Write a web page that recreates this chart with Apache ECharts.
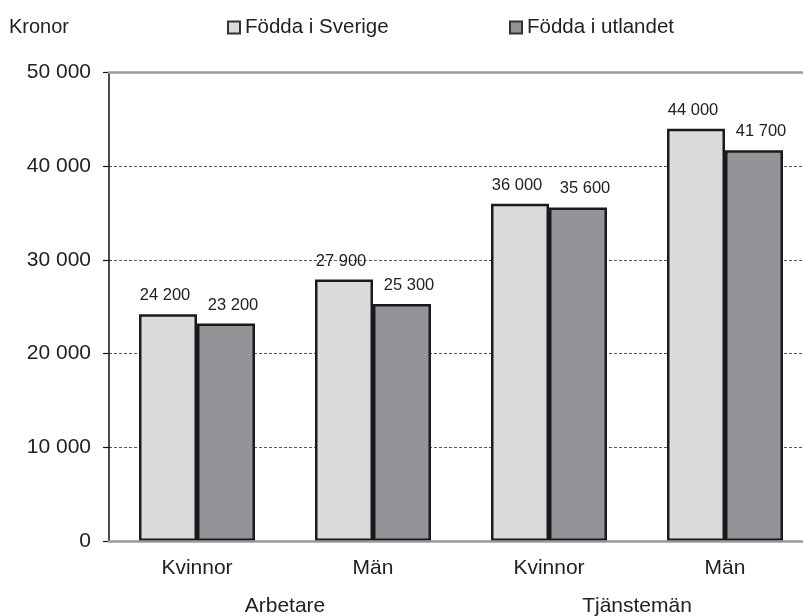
<!DOCTYPE html>
<html>
<head>
<meta charset="utf-8">
<script src="https://cdn.jsdelivr.net/npm/echarts@6/dist/echarts.min.js"></script>
<style>
  html, body { margin: 0; padding: 0; background: #fff; }
  #chart { width: 803px; height: 616px; }
</style>
</head>
<body>
<div id="chart"></div>
<script>
// Månadslön efter yrkesgrupp, kön och födelseland
const categories = ['Kvinnor', 'Män', 'Kvinnor', 'Män'];
const groups = ['Arbetare', 'Tjänstemän'];
const seriesNames = ['Födda i Sverige', 'Födda i utlandet'];
const foddaSverige = [24200, 27900, 36000, 44000];
const foddaUtlandet = [23200, 25300, 35600, 41700];
const yTicks = [0, 10000, 20000, 30000, 40000, 50000];

const FONT = "'Liberation Sans', Arial, sans-serif";
const TEXT = '#222';

// 24200 -> "24 200"
function spaced(v) {
  return String(v).replace(/\B(?=(\d{3})+(?!\d))/g, ' ');
}

const chart = echarts.init(document.getElementById('chart'), null, { renderer: 'canvas' });

const barLabel = (dx) => ({
  show: true,
  position: 'top',
  distance: 10,
  offset: [dx, 0],
  fontFamily: FONT,
  fontSize: 16.5,
  color: TEXT,
  formatter: (p) => spaced(p.value)
});

const legendBase = {
  top: 17,
  itemWidth: 12,
  itemHeight: 12,
  itemGap: 5,
  icon: 'rect',
  textStyle: { fontFamily: FONT, fontSize: 20.5, color: TEXT },
  itemStyle: { borderColor: '#333', borderWidth: 2 }
};

chart.setOption({
  animation: false,
  backgroundColor: '#fff',
  title: {
    text: 'Kronor',
    left: 9,
    top: 17,
    padding: 0,
    textStyle: { fontFamily: FONT, fontSize: 20, fontWeight: 'normal', color: TEXT }
  },
  legend: [
    Object.assign({}, legendBase, { left: 227, data: [seriesNames[0]], padding: 0 }),
    Object.assign({}, legendBase, { left: 509, data: [seriesNames[1]], padding: 0 })
  ],
  grid: {
    left: 109,
    right: -10,
    top: 72.5,
    bottom: 75,
    containLabel: false,
    outerBoundsMode: 'none'
  },
  xAxis: [
    {
      type: 'category',
      data: categories,
      position: 'bottom',
      axisLine: { show: true, lineStyle: { color: '#9a9a9a', width: 2.5 } },
      axisTick: { show: false },
      axisLabel: { margin: 17, fontFamily: FONT, fontSize: 21, color: TEXT },
      z: 3
    },
    {
      type: 'category',
      data: groups,
      position: 'bottom',
      axisLine: { show: false },
      axisTick: { show: false },
      axisLabel: { margin: 55, fontFamily: FONT, fontSize: 21, color: TEXT },
      splitLine: { show: false }
    },
    {
      type: 'category',
      data: categories,
      position: 'top',
      axisLine: { show: true, lineStyle: { color: '#9a9a9a', width: 2.5 } },
      axisTick: { show: false },
      axisLabel: { show: false },
      splitLine: { show: false },
      z: 4
    }
  ],
  yAxis: {
    type: 'value',
    min: yTicks[0],
    max: yTicks[yTicks.length - 1],
    interval: 10000,
    axisLine: { show: true, lineStyle: { color: '#111', width: 1.5 } },
    axisTick: { show: true, length: 6, lineStyle: { color: '#111', width: 1.2 } },
    axisLabel: {
      margin: 18,
      fontFamily: FONT,
      fontSize: 21,
      color: TEXT,
      formatter: (v) => spaced(v)
    },
    splitLine: {
      show: true,
      lineStyle: { color: '#555', width: 1, type: [3, 2] }
    }
  },
  series: [
    {
      name: seriesNames[0],
      type: 'bar',
      xAxisIndex: 0,
      data: foddaSverige,
      barWidth: 58,
      barGap: '0%',
      itemStyle: { color: '#dadbdd', borderColor: '#1a1a1a', borderWidth: 2.5 },
      label: barLabel(-3)
    },
    {
      name: seriesNames[1],
      type: 'bar',
      xAxisIndex: 0,
      data: foddaUtlandet,
      barWidth: 58,
      barGap: '0%',
      itemStyle: { color: '#939497', borderColor: '#1a1a1a', borderWidth: 2.5 },
      label: barLabel(7)
    }
  ]
});
</script>
</body>
</html>
